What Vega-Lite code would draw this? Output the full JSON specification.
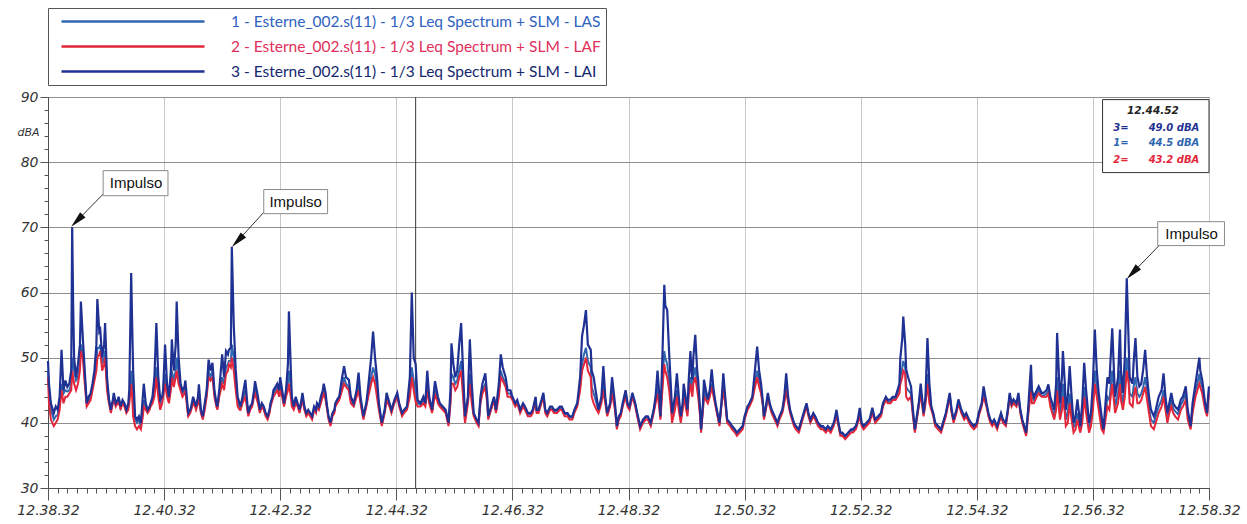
{
  "$schema": "https://vega.github.io/schema/vega-lite/v6.json",
  "width": 1161,
  "height": 391,
  "autosize": {"type": "none"},
  "padding": {"left": 48, "top": 97, "right": 38, "bottom": 36},
  "background": "white",
  "config": {"view": {"stroke": "#4d4d4d", "strokeWidth": 1}},
  "data": {
    "format": {"parse": {"t": "date:'%H:%M:%S'"}},
    "values": [
{"t":"12:38:32","LAI":49.5,"LAF":47,"LAS":48},
{"t":"12:38:33","LAI":46,"LAF":43,"LAS":45},
{"t":"12:38:35","LAI":43,"LAF":40.5,"LAS":42},
{"t":"12:38:38","LAI":41.5,"LAF":39.5,"LAS":40.5},
{"t":"12:38:40","LAI":42.5,"LAF":40,"LAS":41},
{"t":"12:38:42","LAI":42,"LAF":40.5,"LAS":41.2},
{"t":"12:38:44","LAI":44,"LAF":42,"LAS":43},
{"t":"12:38:46","LAI":51.2,"LAF":45,"LAS":46},
{"t":"12:38:48","LAI":45,"LAF":43,"LAS":44.5},
{"t":"12:38:50","LAI":46.5,"LAF":44,"LAS":45},
{"t":"12:38:52","LAI":45.5,"LAF":44,"LAS":44.8},
{"t":"12:38:54","LAI":46,"LAF":44.5,"LAS":45},
{"t":"12:38:56","LAI":48,"LAF":45,"LAS":46},
{"t":"12:38:57","LAI":70,"LAF":48,"LAS":50},
{"t":"12:38:58","LAI":58,"LAF":47,"LAS":49},
{"t":"12:38:59","LAI":50,"LAF":46,"LAS":48},
{"t":"12:39:01","LAI":47,"LAF":45,"LAS":46.5},
{"t":"12:39:03","LAI":49,"LAF":46,"LAS":47},
{"t":"12:39:05","LAI":52,"LAF":48,"LAS":49},
{"t":"12:39:06","LAI":58.6,"LAF":51,"LAS":52},
{"t":"12:39:08","LAI":53,"LAF":50,"LAS":51},
{"t":"12:39:10","LAI":48,"LAF":46,"LAS":47},
{"t":"12:39:12","LAI":43,"LAF":42.5,"LAS":43},
{"t":"12:39:14","LAI":44,"LAF":43,"LAS":43.5},
{"t":"12:39:16","LAI":44.5,"LAF":43.5,"LAS":44},
{"t":"12:39:18","LAI":46,"LAF":45,"LAS":45.5},
{"t":"12:39:20","LAI":48,"LAF":46.5,"LAS":47},
{"t":"12:39:22","LAI":52,"LAF":48,"LAS":49},
{"t":"12:39:23","LAI":59,"LAF":50,"LAS":51.5},
{"t":"12:39:25","LAI":54,"LAF":50.5,"LAS":51.5},
{"t":"12:39:26","LAI":54.3,"LAF":51,"LAS":52},
{"t":"12:39:28","LAI":50,"LAF":48,"LAS":49},
{"t":"12:39:30","LAI":52,"LAF":49,"LAS":50},
{"t":"12:39:31","LAI":55.3,"LAF":50,"LAS":51},
{"t":"12:39:33","LAI":47,"LAF":45,"LAS":46},
{"t":"12:39:35","LAI":43.6,"LAF":43,"LAS":43.5},
{"t":"12:39:37","LAI":42,"LAF":41.5,"LAS":42},
{"t":"12:39:39","LAI":43.5,"LAF":43,"LAS":43.2},
{"t":"12:39:40","LAI":44.6,"LAF":43.8,"LAS":44},
{"t":"12:39:42","LAI":43,"LAF":42.5,"LAS":42.8},
{"t":"12:39:44","LAI":43.5,"LAF":43,"LAS":43.2},
{"t":"12:39:45","LAI":44,"LAF":43.5,"LAS":43.8},
{"t":"12:39:47","LAI":42.5,"LAF":42,"LAS":42.3},
{"t":"12:39:49","LAI":43.5,"LAF":43,"LAS":43.2},
{"t":"12:39:51","LAI":43,"LAF":42.5,"LAS":42.8},
{"t":"12:39:53","LAI":42,"LAF":41.5,"LAS":41.8},
{"t":"12:39:55","LAI":43,"LAF":42,"LAS":42.5},
{"t":"12:39:56","LAI":45,"LAF":43,"LAS":43.5},
{"t":"12:39:58","LAI":63,"LAF":46,"LAS":48},
{"t":"12:39:59","LAI":55,"LAF":44,"LAS":46},
{"t":"12:40:00","LAI":48,"LAF":41,"LAS":44},
{"t":"12:40:02","LAI":41,"LAF":39.5,"LAS":40.5},
{"t":"12:40:04","LAI":40.5,"LAF":39,"LAS":40},
{"t":"12:40:06","LAI":41,"LAF":39.5,"LAS":40.5},
{"t":"12:40:08","LAI":40,"LAF":39,"LAS":39.5},
{"t":"12:40:10","LAI":44,"LAF":41,"LAS":42},
{"t":"12:40:11","LAI":46,"LAF":42.5,"LAS":43.5},
{"t":"12:40:13","LAI":43,"LAF":42,"LAS":42.5},
{"t":"12:40:15","LAI":42,"LAF":41.5,"LAS":41.8},
{"t":"12:40:17","LAI":42.5,"LAF":42,"LAS":42.2},
{"t":"12:40:18","LAI":43,"LAF":42.5,"LAS":42.8},
{"t":"12:40:20","LAI":44,"LAF":43,"LAS":43.5},
{"t":"12:40:22","LAI":47,"LAF":44,"LAS":45},
{"t":"12:40:24","LAI":55.3,"LAF":47,"LAS":48.5},
{"t":"12:40:26","LAI":47,"LAF":44,"LAS":45.5},
{"t":"12:40:28","LAI":43.6,"LAF":42,"LAS":43},
{"t":"12:40:30","LAI":44,"LAF":43,"LAS":43.5},
{"t":"12:40:31","LAI":45,"LAF":44,"LAS":44.5},
{"t":"12:40:33","LAI":52,"LAF":46,"LAS":47.5},
{"t":"12:40:35","LAI":46,"LAF":44,"LAS":45},
{"t":"12:40:37","LAI":44,"LAF":43,"LAS":43.5},
{"t":"12:40:39","LAI":48,"LAF":45,"LAS":46},
{"t":"12:40:40","LAI":52.8,"LAF":47,"LAS":48},
{"t":"12:40:42","LAI":48,"LAF":45.5,"LAS":46.5},
{"t":"12:40:44","LAI":52,"LAF":47,"LAS":48},
{"t":"12:40:45","LAI":58.6,"LAF":48,"LAS":50},
{"t":"12:40:47","LAI":50,"LAF":46,"LAS":47.5},
{"t":"12:40:49","LAI":46,"LAF":45,"LAS":45.5},
{"t":"12:40:51","LAI":45,"LAF":44,"LAS":44.5},
{"t":"12:40:53","LAI":45.5,"LAF":44.5,"LAS":45},
{"t":"12:40:54","LAI":46.5,"LAF":45,"LAS":45.5},
{"t":"12:40:56","LAI":43,"LAF":42,"LAS":42.5},
{"t":"12:40:57","LAI":41.5,"LAF":41,"LAS":41.3},
{"t":"12:40:59","LAI":42,"LAF":41.5,"LAS":41.8},
{"t":"12:41:00","LAI":42.5,"LAF":42,"LAS":42.2},
{"t":"12:41:02","LAI":44,"LAF":43,"LAS":43.5},
{"t":"12:41:04","LAI":43,"LAF":42.5,"LAS":42.8},
{"t":"12:41:05","LAI":42.5,"LAF":42,"LAS":42.2},
{"t":"12:41:07","LAI":44,"LAF":43,"LAS":43.5},
{"t":"12:41:08","LAI":45.9,"LAF":44,"LAS":44.8},
{"t":"12:41:10","LAI":42,"LAF":41.5,"LAS":41.8},
{"t":"12:41:12","LAI":41,"LAF":40.5,"LAS":40.8},
{"t":"12:41:14","LAI":43,"LAF":42,"LAS":42.5},
{"t":"12:41:16","LAI":45,"LAF":44,"LAS":44.5},
{"t":"12:41:18","LAI":49.7,"LAF":47,"LAS":48},
{"t":"12:41:20","LAI":48,"LAF":46.5,"LAS":47},
{"t":"12:41:22","LAI":49.2,"LAF":47,"LAS":48},
{"t":"12:41:24","LAI":45,"LAF":44,"LAS":44.5},
{"t":"12:41:26","LAI":43,"LAF":42.5,"LAS":42.8},
{"t":"12:41:27","LAI":42.5,"LAF":42,"LAS":42.2},
{"t":"12:41:29","LAI":45,"LAF":44,"LAS":44.5},
{"t":"12:41:32","LAI":50.5,"LAF":46,"LAS":47},
{"t":"12:41:34","LAI":47,"LAF":45,"LAS":46},
{"t":"12:41:36","LAI":51,"LAF":47.5,"LAS":48.5},
{"t":"12:41:38","LAI":50.5,"LAF":48,"LAS":49},
{"t":"12:41:39","LAI":51.2,"LAF":49,"LAS":49.5},
{"t":"12:41:41","LAI":51.5,"LAF":48.5,"LAS":49.5},
{"t":"12:41:42","LAI":67,"LAF":50,"LAS":52},
{"t":"12:41:44","LAI":55,"LAF":48,"LAS":50},
{"t":"12:41:46","LAI":48.2,"LAF":45,"LAS":46.5},
{"t":"12:41:48","LAI":44,"LAF":42.5,"LAS":43.5},
{"t":"12:41:50","LAI":43,"LAF":42,"LAS":42.5},
{"t":"12:41:51","LAI":42.5,"LAF":42,"LAS":42.2},
{"t":"12:41:53","LAI":44,"LAF":43,"LAS":43.5},
{"t":"12:41:56","LAI":46.6,"LAF":44,"LAS":45},
{"t":"12:41:58","LAI":43,"LAF":42,"LAS":42.5},
{"t":"12:41:59","LAI":41.5,"LAF":41,"LAS":41.3},
{"t":"12:42:01","LAI":42.5,"LAF":42,"LAS":42.2},
{"t":"12:42:03","LAI":43,"LAF":42.5,"LAS":42.8},
{"t":"12:42:05","LAI":45,"LAF":44,"LAS":44.5},
{"t":"12:42:06","LAI":46.4,"LAF":44.5,"LAS":45.2},
{"t":"12:42:09","LAI":44,"LAF":43,"LAS":43.5},
{"t":"12:42:11","LAI":42,"LAF":41.5,"LAS":41.8},
{"t":"12:42:13","LAI":43,"LAF":42.5,"LAS":42.8},
{"t":"12:42:15","LAI":42.5,"LAF":42,"LAS":42.2},
{"t":"12:42:17","LAI":41.5,"LAF":41,"LAS":41.3},
{"t":"12:42:19","LAI":41,"LAF":40.5,"LAS":40.8},
{"t":"12:42:21","LAI":42,"LAF":41.5,"LAS":41.8},
{"t":"12:42:22","LAI":43,"LAF":42.5,"LAS":42.8},
{"t":"12:42:24","LAI":44,"LAF":43.5,"LAS":43.8},
{"t":"12:42:25","LAI":45,"LAF":44,"LAS":44.5},
{"t":"12:42:27","LAI":45.5,"LAF":44.5,"LAS":45},
{"t":"12:42:29","LAI":46,"LAF":45,"LAS":45.5},
{"t":"12:42:31","LAI":45,"LAF":44,"LAS":44.5},
{"t":"12:42:32","LAI":47,"LAF":45,"LAS":45.8},
{"t":"12:42:34","LAI":45,"LAF":44,"LAS":44.5},
{"t":"12:42:36","LAI":43,"LAF":42.5,"LAS":42.8},
{"t":"12:42:38","LAI":45,"LAF":44,"LAS":44.5},
{"t":"12:42:40","LAI":49,"LAF":45,"LAS":46},
{"t":"12:42:41","LAI":57.1,"LAF":46,"LAS":48},
{"t":"12:42:43","LAI":48,"LAF":44,"LAS":45.5},
{"t":"12:42:44","LAI":44,"LAF":42.5,"LAS":43.5},
{"t":"12:42:46","LAI":42.5,"LAF":42,"LAS":42.2},
{"t":"12:42:48","LAI":44,"LAF":43,"LAS":43.5},
{"t":"12:42:50","LAI":43,"LAF":42.5,"LAS":42.8},
{"t":"12:42:52","LAI":42,"LAF":41.5,"LAS":41.8},
{"t":"12:42:54","LAI":43.5,"LAF":43,"LAS":43.2},
{"t":"12:42:55","LAI":44.6,"LAF":43.5,"LAS":44},
{"t":"12:42:57","LAI":42.5,"LAF":42,"LAS":42.2},
{"t":"12:42:59","LAI":41.5,"LAF":41,"LAS":41.3},
{"t":"12:43:01","LAI":42,"LAF":41.5,"LAS":41.8},
{"t":"12:43:03","LAI":41.5,"LAF":41,"LAS":41.3},
{"t":"12:43:05","LAI":41,"LAF":40.5,"LAS":40.8},
{"t":"12:43:07","LAI":42.5,"LAF":42,"LAS":42.2},
{"t":"12:43:09","LAI":42,"LAF":41.5,"LAS":41.8},
{"t":"12:43:10","LAI":43,"LAF":42.5,"LAS":42.8},
{"t":"12:43:12","LAI":42.5,"LAF":42,"LAS":42.2},
{"t":"12:43:14","LAI":44,"LAF":43,"LAS":43.5},
{"t":"12:43:16","LAI":45,"LAF":44,"LAS":44.5},
{"t":"12:43:17","LAI":46,"LAF":44.5,"LAS":45},
{"t":"12:43:19","LAI":44.5,"LAF":43.5,"LAS":44},
{"t":"12:43:20","LAI":43,"LAF":42.5,"LAS":42.8},
{"t":"12:43:22","LAI":41,"LAF":40.5,"LAS":40.8},
{"t":"12:43:24","LAI":40,"LAF":39.5,"LAS":39.8},
{"t":"12:43:26","LAI":41.5,"LAF":41,"LAS":41.3},
{"t":"12:43:28","LAI":42,"LAF":41.5,"LAS":41.8},
{"t":"12:43:29","LAI":43,"LAF":42.5,"LAS":42.8},
{"t":"12:43:31","LAI":43.6,"LAF":43,"LAS":43.3},
{"t":"12:43:33","LAI":44,"LAF":43.5,"LAS":43.8},
{"t":"12:43:36","LAI":47,"LAF":45,"LAS":45.5},
{"t":"12:43:38","LAI":48.7,"LAF":46,"LAS":47},
{"t":"12:43:40","LAI":47,"LAF":45.5,"LAS":46},
{"t":"12:43:43","LAI":46.6,"LAF":45,"LAS":45.5},
{"t":"12:43:45","LAI":44,"LAF":43,"LAS":43.5},
{"t":"12:43:48","LAI":43,"LAF":42.5,"LAS":42.8},
{"t":"12:43:51","LAI":45,"LAF":44,"LAS":44.5},
{"t":"12:43:53","LAI":47.7,"LAF":45,"LAS":46},
{"t":"12:43:55","LAI":44,"LAF":43,"LAS":43.5},
{"t":"12:43:58","LAI":41,"LAF":40.5,"LAS":40.8},
{"t":"12:44:01","LAI":43,"LAF":42.5,"LAS":42.8},
{"t":"12:44:03","LAI":45.6,"LAF":44,"LAS":44.5},
{"t":"12:44:06","LAI":50,"LAF":46,"LAS":47},
{"t":"12:44:08","LAI":54,"LAF":47,"LAS":48.5},
{"t":"12:44:10","LAI":50,"LAF":46,"LAS":47.5},
{"t":"12:44:12","LAI":47,"LAF":44,"LAS":45.5},
{"t":"12:44:14","LAI":43,"LAF":42,"LAS":42.5},
{"t":"12:44:17","LAI":40,"LAF":39.5,"LAS":39.8},
{"t":"12:44:20","LAI":42,"LAF":41.5,"LAS":41.8},
{"t":"12:44:22","LAI":44.6,"LAF":43.5,"LAS":44},
{"t":"12:44:25","LAI":43,"LAF":42.5,"LAS":42.8},
{"t":"12:44:27","LAI":42,"LAF":41.5,"LAS":41.8},
{"t":"12:44:30","LAI":43.5,"LAF":43,"LAS":43.2},
{"t":"12:44:33","LAI":44.6,"LAF":44,"LAS":44.2},
{"t":"12:44:35","LAI":43,"LAF":42.5,"LAS":42.8},
{"t":"12:44:38","LAI":41.5,"LAF":41,"LAS":41.3},
{"t":"12:44:40","LAI":42,"LAF":41.5,"LAS":41.8},
{"t":"12:44:43","LAI":42.5,"LAF":42,"LAS":42.2},
{"t":"12:44:46","LAI":47,"LAF":44,"LAS":45},
{"t":"12:44:48","LAI":60,"LAF":47,"LAS":48.5},
{"t":"12:44:50","LAI":50,"LAF":45,"LAS":46.5},
{"t":"12:44:52","LAI":49.0,"LAF":43.2,"LAS":44.5},
{"t":"12:44:54","LAI":43.5,"LAF":42.5,"LAS":43},
{"t":"12:44:57","LAI":43,"LAF":42.5,"LAS":42.8},
{"t":"12:45:00","LAI":44,"LAF":43,"LAS":43.5},
{"t":"12:45:02","LAI":43,"LAF":42.5,"LAS":42.8},
{"t":"12:45:04","LAI":48,"LAF":45,"LAS":46},
{"t":"12:45:06","LAI":44,"LAF":43,"LAS":43.5},
{"t":"12:45:09","LAI":42,"LAF":41.5,"LAS":41.8},
{"t":"12:45:12","LAI":46.4,"LAF":44.5,"LAS":45},
{"t":"12:45:15","LAI":44,"LAF":43,"LAS":43.5},
{"t":"12:45:17","LAI":43,"LAF":42.5,"LAS":42.8},
{"t":"12:45:20","LAI":42.5,"LAF":42,"LAS":42.2},
{"t":"12:45:23","LAI":42,"LAF":41.5,"LAS":41.8},
{"t":"12:45:26","LAI":40,"LAF":39.5,"LAS":39.8},
{"t":"12:45:28","LAI":45,"LAF":43,"LAS":43.5},
{"t":"12:45:29","LAI":52.2,"LAF":46,"LAS":47.5},
{"t":"12:45:31","LAI":49,"LAF":46,"LAS":47},
{"t":"12:45:33","LAI":47,"LAF":45,"LAS":46},
{"t":"12:45:35","LAI":48,"LAF":45.5,"LAS":46.5},
{"t":"12:45:37","LAI":52,"LAF":47,"LAS":48},
{"t":"12:45:39","LAI":55.3,"LAF":48,"LAS":49.5},
{"t":"12:45:41","LAI":48,"LAF":44,"LAS":45.5},
{"t":"12:45:43","LAI":41,"LAF":40,"LAS":40.5},
{"t":"12:45:46","LAI":44,"LAF":43,"LAS":43.5},
{"t":"12:45:48","LAI":52.8,"LAF":46,"LAS":47.5},
{"t":"12:45:50","LAI":46,"LAF":43,"LAS":44},
{"t":"12:45:52","LAI":41.5,"LAF":41,"LAS":41.3},
{"t":"12:45:55","LAI":40.5,"LAF":40,"LAS":40.3},
{"t":"12:45:57","LAI":40,"LAF":39.5,"LAS":39.8},
{"t":"12:45:59","LAI":44,"LAF":43,"LAS":43.5},
{"t":"12:46:01","LAI":46,"LAF":44.5,"LAS":45},
{"t":"12:46:04","LAI":47.6,"LAF":45.5,"LAS":46},
{"t":"12:46:06","LAI":44,"LAF":43,"LAS":43.5},
{"t":"12:46:07","LAI":41,"LAF":40.5,"LAS":40.8},
{"t":"12:46:10","LAI":42.5,"LAF":42,"LAS":42.2},
{"t":"12:46:13","LAI":44,"LAF":43.5,"LAS":43.8},
{"t":"12:46:15","LAI":42,"LAF":41.5,"LAS":41.8},
{"t":"12:46:18","LAI":46,"LAF":44,"LAS":45},
{"t":"12:46:20","LAI":50.5,"LAF":47,"LAS":48},
{"t":"12:46:22","LAI":48.5,"LAF":46.5,"LAS":47},
{"t":"12:46:25","LAI":47,"LAF":45.5,"LAS":46},
{"t":"12:46:27","LAI":45,"LAF":44,"LAS":44.5},
{"t":"12:46:30","LAI":45,"LAF":44,"LAS":44.5},
{"t":"12:46:32","LAI":44,"LAF":43.5,"LAS":43.8},
{"t":"12:46:35","LAI":43,"LAF":42.5,"LAS":42.8},
{"t":"12:46:37","LAI":43.5,"LAF":43,"LAS":43.2},
{"t":"12:46:40","LAI":42,"LAF":41.5,"LAS":41.8},
{"t":"12:46:43","LAI":43,"LAF":42.5,"LAS":42.8},
{"t":"12:46:45","LAI":42.5,"LAF":42,"LAS":42.2},
{"t":"12:46:48","LAI":41.5,"LAF":41,"LAS":41.3},
{"t":"12:46:51","LAI":41.5,"LAF":41,"LAS":41.3},
{"t":"12:46:53","LAI":42,"LAF":41.5,"LAS":41.8},
{"t":"12:46:56","LAI":44,"LAF":43.5,"LAS":43.8},
{"t":"12:46:57","LAI":42,"LAF":41.5,"LAS":41.8},
{"t":"12:46:59","LAI":42,"LAF":41.5,"LAS":41.8},
{"t":"12:47:02","LAI":43.5,"LAF":43,"LAS":43.2},
{"t":"12:47:04","LAI":44.6,"LAF":44,"LAS":44.2},
{"t":"12:47:06","LAI":42,"LAF":41.5,"LAS":41.8},
{"t":"12:47:08","LAI":41.5,"LAF":41,"LAS":41.3},
{"t":"12:47:11","LAI":42.5,"LAF":42,"LAS":42.2},
{"t":"12:47:13","LAI":42.5,"LAF":42,"LAS":42.2},
{"t":"12:47:15","LAI":42,"LAF":41.5,"LAS":41.8},
{"t":"12:47:18","LAI":42,"LAF":41.5,"LAS":41.8},
{"t":"12:47:21","LAI":42.5,"LAF":42,"LAS":42.2},
{"t":"12:47:23","LAI":42.5,"LAF":42,"LAS":42.2},
{"t":"12:47:26","LAI":41.5,"LAF":41,"LAS":41.3},
{"t":"12:47:29","LAI":41.5,"LAF":41,"LAS":41.3},
{"t":"12:47:31","LAI":41,"LAF":40.5,"LAS":40.8},
{"t":"12:47:34","LAI":41,"LAF":40.5,"LAS":40.8},
{"t":"12:47:36","LAI":42,"LAF":41.5,"LAS":41.8},
{"t":"12:47:39","LAI":43,"LAF":42.5,"LAS":42.8},
{"t":"12:47:42","LAI":47,"LAF":45,"LAS":45.5},
{"t":"12:47:44","LAI":53.3,"LAF":48,"LAS":49},
{"t":"12:47:46","LAI":55,"LAF":49,"LAS":50.5},
{"t":"12:47:48","LAI":57.3,"LAF":50,"LAS":51.5},
{"t":"12:47:50","LAI":52,"LAF":48,"LAS":49.5},
{"t":"12:47:53","LAI":51.2,"LAF":47,"LAS":48.5},
{"t":"12:47:54","LAI":48,"LAF":44,"LAS":45.5},
{"t":"12:47:56","LAI":47,"LAF":43,"LAS":44.5},
{"t":"12:47:59","LAI":44,"LAF":42,"LAS":43},
{"t":"12:48:01","LAI":42,"LAF":41.5,"LAS":41.8},
{"t":"12:48:04","LAI":44,"LAF":43,"LAS":43.5},
{"t":"12:48:06","LAI":48.7,"LAF":45,"LAS":46},
{"t":"12:48:08","LAI":44,"LAF":43,"LAS":43.5},
{"t":"12:48:10","LAI":41.5,"LAF":41,"LAS":41.3},
{"t":"12:48:13","LAI":43,"LAF":42.5,"LAS":42.8},
{"t":"12:48:15","LAI":47,"LAF":44.5,"LAS":45},
{"t":"12:48:18","LAI":43,"LAF":42,"LAS":42.5},
{"t":"12:48:20","LAI":39.5,"LAF":39,"LAS":39.3},
{"t":"12:48:22","LAI":41,"LAF":40.5,"LAS":40.8},
{"t":"12:48:24","LAI":41.5,"LAF":41,"LAS":41.3},
{"t":"12:48:26","LAI":43,"LAF":42.5,"LAS":42.8},
{"t":"12:48:29","LAI":45,"LAF":44,"LAS":44.5},
{"t":"12:48:31","LAI":43,"LAF":42.5,"LAS":42.8},
{"t":"12:48:33","LAI":42.5,"LAF":42,"LAS":42.2},
{"t":"12:48:36","LAI":44.6,"LAF":44,"LAS":44.2},
{"t":"12:48:39","LAI":43,"LAF":42.5,"LAS":42.8},
{"t":"12:48:41","LAI":41.5,"LAF":41,"LAS":41.3},
{"t":"12:48:44","LAI":39.5,"LAF":39,"LAS":39.3},
{"t":"12:48:47","LAI":40.5,"LAF":40,"LAS":40.3},
{"t":"12:48:50","LAI":41,"LAF":40.5,"LAS":40.8},
{"t":"12:48:52","LAI":41,"LAF":40.5,"LAS":40.8},
{"t":"12:48:55","LAI":40,"LAF":39.5,"LAS":39.8},
{"t":"12:48:58","LAI":42,"LAF":41.5,"LAS":41.8},
{"t":"12:49:00","LAI":44,"LAF":43,"LAS":43.5},
{"t":"12:49:02","LAI":48,"LAF":44.5,"LAS":45.5},
{"t":"12:49:04","LAI":44,"LAF":42,"LAS":43},
{"t":"12:49:05","LAI":41,"LAF":40.5,"LAS":40.8},
{"t":"12:49:07","LAI":50,"LAF":45,"LAS":46},
{"t":"12:49:09","LAI":61.2,"LAF":49,"LAS":51},
{"t":"12:49:10","LAI":58,"LAF":48,"LAS":50},
{"t":"12:49:12","LAI":57.3,"LAF":47,"LAS":49},
{"t":"12:49:14","LAI":50.7,"LAF":45,"LAS":46.5},
{"t":"12:49:16","LAI":45,"LAF":42,"LAS":43.5},
{"t":"12:49:17","LAI":41.5,"LAF":40,"LAS":41},
{"t":"12:49:20","LAI":44,"LAF":42,"LAS":43},
{"t":"12:49:22","LAI":47.6,"LAF":44,"LAS":45},
{"t":"12:49:24","LAI":44,"LAF":42,"LAS":43},
{"t":"12:49:26","LAI":41,"LAF":40,"LAS":40.5},
{"t":"12:49:28","LAI":43,"LAF":42,"LAS":42.5},
{"t":"12:49:29","LAI":46,"LAF":44,"LAS":44.5},
{"t":"12:49:31","LAI":44,"LAF":42.5,"LAS":43},
{"t":"12:49:33","LAI":42,"LAF":41,"LAS":41.5},
{"t":"12:49:34","LAI":46,"LAF":44,"LAS":44.5},
{"t":"12:49:36","LAI":51,"LAF":46,"LAS":47},
{"t":"12:49:37","LAI":48,"LAF":45,"LAS":46},
{"t":"12:49:38","LAI":46.6,"LAF":44,"LAS":45},
{"t":"12:49:39","LAI":50,"LAF":46,"LAS":47},
{"t":"12:49:41","LAI":53.5,"LAF":47,"LAS":48.5},
{"t":"12:49:43","LAI":48,"LAF":45,"LAS":46},
{"t":"12:49:44","LAI":46.6,"LAF":44,"LAS":45},
{"t":"12:49:46","LAI":42,"LAF":41,"LAS":41.5},
{"t":"12:49:47","LAI":39,"LAF":38.5,"LAS":38.8},
{"t":"12:49:49","LAI":43,"LAF":42,"LAS":42.5},
{"t":"12:49:50","LAI":46.6,"LAF":44,"LAS":45},
{"t":"12:49:52","LAI":45,"LAF":43.5,"LAS":44},
{"t":"12:49:54","LAI":43.6,"LAF":43,"LAS":43.3},
{"t":"12:49:56","LAI":45,"LAF":44,"LAS":44.5},
{"t":"12:49:58","LAI":48.2,"LAF":45.5,"LAS":46},
{"t":"12:50:00","LAI":45,"LAF":44,"LAS":44.5},
{"t":"12:50:02","LAI":43,"LAF":42.5,"LAS":42.8},
{"t":"12:50:04","LAI":41.5,"LAF":41,"LAS":41.3},
{"t":"12:50:06","LAI":40,"LAF":39.5,"LAS":39.8},
{"t":"12:50:08","LAI":43,"LAF":42.5,"LAS":42.8},
{"t":"12:50:10","LAI":47.6,"LAF":45,"LAS":45.5},
{"t":"12:50:12","LAI":44,"LAF":43,"LAS":43.5},
{"t":"12:50:14","LAI":40.5,"LAF":40,"LAS":40.3},
{"t":"12:50:17","LAI":40,"LAF":39.5,"LAS":39.8},
{"t":"12:50:19","LAI":39.5,"LAF":39,"LAS":39.3},
{"t":"12:50:22","LAI":39,"LAF":38.5,"LAS":38.8},
{"t":"12:50:24","LAI":38.5,"LAF":38,"LAS":38.3},
{"t":"12:50:27","LAI":39,"LAF":38.5,"LAS":38.8},
{"t":"12:50:30","LAI":39.5,"LAF":39,"LAS":39.3},
{"t":"12:50:32","LAI":41,"LAF":40.5,"LAS":40.8},
{"t":"12:50:35","LAI":42.5,"LAF":42,"LAS":42.2},
{"t":"12:50:37","LAI":43,"LAF":42.5,"LAS":42.8},
{"t":"12:50:40","LAI":44,"LAF":43.5,"LAS":43.8},
{"t":"12:50:42","LAI":47,"LAF":45,"LAS":45.5},
{"t":"12:50:45","LAI":51.7,"LAF":47,"LAS":48},
{"t":"12:50:47","LAI":48,"LAF":45.5,"LAS":46.5},
{"t":"12:50:49","LAI":46,"LAF":44.5,"LAS":45},
{"t":"12:50:51","LAI":43,"LAF":42.5,"LAS":42.8},
{"t":"12:50:52","LAI":41,"LAF":40.5,"LAS":40.8},
{"t":"12:50:54","LAI":42.5,"LAF":42,"LAS":42.2},
{"t":"12:50:56","LAI":44.6,"LAF":44,"LAS":44.2},
{"t":"12:50:58","LAI":43,"LAF":42.5,"LAS":42.8},
{"t":"12:51:00","LAI":42,"LAF":41.5,"LAS":41.8},
{"t":"12:51:03","LAI":41,"LAF":40.5,"LAS":40.8},
{"t":"12:51:06","LAI":40,"LAF":39.5,"LAS":39.8},
{"t":"12:51:08","LAI":41,"LAF":40.5,"LAS":40.8},
{"t":"12:51:11","LAI":42,"LAF":41.5,"LAS":41.8},
{"t":"12:51:13","LAI":44,"LAF":43,"LAS":43.5},
{"t":"12:51:15","LAI":47.6,"LAF":45,"LAS":45.5},
{"t":"12:51:17","LAI":44,"LAF":43,"LAS":43.5},
{"t":"12:51:19","LAI":42,"LAF":41.5,"LAS":41.8},
{"t":"12:51:21","LAI":41,"LAF":40.5,"LAS":40.8},
{"t":"12:51:23","LAI":40,"LAF":39.5,"LAS":39.8},
{"t":"12:51:25","LAI":39.5,"LAF":39,"LAS":39.3},
{"t":"12:51:28","LAI":39,"LAF":38.5,"LAS":38.8},
{"t":"12:51:30","LAI":40,"LAF":39.5,"LAS":39.8},
{"t":"12:51:32","LAI":41,"LAF":40.5,"LAS":40.8},
{"t":"12:51:34","LAI":42,"LAF":41.5,"LAS":41.8},
{"t":"12:51:36","LAI":43,"LAF":42.5,"LAS":42.8},
{"t":"12:51:38","LAI":41.5,"LAF":41,"LAS":41.3},
{"t":"12:51:40","LAI":40.5,"LAF":40,"LAS":40.3},
{"t":"12:51:43","LAI":41.5,"LAF":41,"LAS":41.3},
{"t":"12:51:45","LAI":41,"LAF":40.5,"LAS":40.8},
{"t":"12:51:48","LAI":40,"LAF":39.5,"LAS":39.8},
{"t":"12:51:51","LAI":39.5,"LAF":39,"LAS":39.3},
{"t":"12:51:53","LAI":39.5,"LAF":39,"LAS":39.3},
{"t":"12:51:56","LAI":39,"LAF":38.5,"LAS":38.8},
{"t":"12:51:58","LAI":39.5,"LAF":39,"LAS":39.3},
{"t":"12:52:01","LAI":39,"LAF":38.5,"LAS":38.8},
{"t":"12:52:04","LAI":40,"LAF":39.5,"LAS":39.8},
{"t":"12:52:05","LAI":40.5,"LAF":40,"LAS":40.3},
{"t":"12:52:07","LAI":42,"LAF":41,"LAS":41.5},
{"t":"12:52:09","LAI":40,"LAF":39.5,"LAS":39.8},
{"t":"12:52:11","LAI":38.5,"LAF":38,"LAS":38.3},
{"t":"12:52:13","LAI":38.5,"LAF":38,"LAS":38.3},
{"t":"12:52:16","LAI":38,"LAF":37.5,"LAS":37.8},
{"t":"12:52:19","LAI":38.5,"LAF":38,"LAS":38.3},
{"t":"12:52:22","LAI":39,"LAF":38.5,"LAS":38.8},
{"t":"12:52:24","LAI":39,"LAF":38.5,"LAS":38.8},
{"t":"12:52:27","LAI":39.5,"LAF":39,"LAS":39.3},
{"t":"12:52:29","LAI":40.5,"LAF":40,"LAS":40.3},
{"t":"12:52:31","LAI":42.3,"LAF":41,"LAS":41.5},
{"t":"12:52:33","LAI":40,"LAF":39.5,"LAS":39.8},
{"t":"12:52:35","LAI":39.5,"LAF":39,"LAS":39.3},
{"t":"12:52:38","LAI":40,"LAF":39.5,"LAS":39.8},
{"t":"12:52:41","LAI":40.5,"LAF":40,"LAS":40.3},
{"t":"12:52:42","LAI":41,"LAF":40.5,"LAS":40.8},
{"t":"12:52:44","LAI":42.3,"LAF":41.5,"LAS":41.8},
{"t":"12:52:46","LAI":41,"LAF":40.5,"LAS":40.8},
{"t":"12:52:47","LAI":40.5,"LAF":40,"LAS":40.3},
{"t":"12:52:50","LAI":41,"LAF":40.5,"LAS":40.8},
{"t":"12:52:53","LAI":41.5,"LAF":41,"LAS":41.3},
{"t":"12:52:55","LAI":43,"LAF":42.5,"LAS":42.8},
{"t":"12:52:58","LAI":44,"LAF":43.5,"LAS":43.8},
{"t":"12:53:00","LAI":43.5,"LAF":43,"LAS":43.2},
{"t":"12:53:03","LAI":43.6,"LAF":43,"LAS":43.3},
{"t":"12:53:05","LAI":44,"LAF":43.5,"LAS":43.8},
{"t":"12:53:08","LAI":44,"LAF":43.5,"LAS":43.8},
{"t":"12:53:10","LAI":45,"LAF":44,"LAS":44.5},
{"t":"12:53:12","LAI":46,"LAF":44.5,"LAS":45},
{"t":"12:53:13","LAI":50,"LAF":46,"LAS":47},
{"t":"12:53:15","LAI":53,"LAF":47,"LAS":48.5},
{"t":"12:53:16","LAI":56.3,"LAF":48,"LAS":49.5},
{"t":"12:53:18","LAI":52,"LAF":47.5,"LAS":48.5},
{"t":"12:53:19","LAI":48.2,"LAF":44,"LAS":45.5},
{"t":"12:53:21","LAI":47,"LAF":43.5,"LAS":45},
{"t":"12:53:24","LAI":45.6,"LAF":44,"LAS":44.5},
{"t":"12:53:26","LAI":42,"LAF":41,"LAS":41.5},
{"t":"12:53:28","LAI":39,"LAF":38.5,"LAS":38.8},
{"t":"12:53:30","LAI":41,"LAF":40.5,"LAS":40.8},
{"t":"12:53:32","LAI":43,"LAF":42.5,"LAS":42.8},
{"t":"12:53:34","LAI":46,"LAF":44.5,"LAS":45},
{"t":"12:53:37","LAI":41.5,"LAF":41,"LAS":41.3},
{"t":"12:53:39","LAI":44,"LAF":43,"LAS":43.5},
{"t":"12:53:41","LAI":53,"LAF":46,"LAS":47.5},
{"t":"12:53:43","LAI":46,"LAF":43,"LAS":44.5},
{"t":"12:53:45","LAI":42.5,"LAF":42,"LAS":42.2},
{"t":"12:53:47","LAI":41.5,"LAF":41,"LAS":41.3},
{"t":"12:53:49","LAI":40,"LAF":39.5,"LAS":39.8},
{"t":"12:53:52","LAI":39.5,"LAF":39,"LAS":39.3},
{"t":"12:53:55","LAI":39,"LAF":38.5,"LAS":38.8},
{"t":"12:53:57","LAI":40,"LAF":39.5,"LAS":39.8},
{"t":"12:54:00","LAI":41.5,"LAF":41,"LAS":41.3},
{"t":"12:54:02","LAI":43,"LAF":42.5,"LAS":42.8},
{"t":"12:54:04","LAI":44.6,"LAF":44,"LAS":44.2},
{"t":"12:54:06","LAI":42,"LAF":41.5,"LAS":41.8},
{"t":"12:54:08","LAI":40.5,"LAF":40,"LAS":40.3},
{"t":"12:54:11","LAI":42,"LAF":41.5,"LAS":41.8},
{"t":"12:54:13","LAI":43.6,"LAF":43,"LAS":43.3},
{"t":"12:54:16","LAI":42,"LAF":41.5,"LAS":41.8},
{"t":"12:54:19","LAI":41,"LAF":40.5,"LAS":40.8},
{"t":"12:54:21","LAI":41.5,"LAF":41,"LAS":41.3},
{"t":"12:54:24","LAI":40.5,"LAF":40,"LAS":40.3},
{"t":"12:54:26","LAI":40,"LAF":39.5,"LAS":39.8},
{"t":"12:54:29","LAI":39.5,"LAF":39,"LAS":39.3},
{"t":"12:54:32","LAI":40,"LAF":39.5,"LAS":39.8},
{"t":"12:54:34","LAI":41.5,"LAF":41,"LAS":41.3},
{"t":"12:54:37","LAI":43,"LAF":42.5,"LAS":42.8},
{"t":"12:54:39","LAI":45.6,"LAF":44,"LAS":44.5},
{"t":"12:54:42","LAI":43,"LAF":42.5,"LAS":42.8},
{"t":"12:54:44","LAI":41.5,"LAF":41,"LAS":41.3},
{"t":"12:54:46","LAI":40.5,"LAF":40,"LAS":40.3},
{"t":"12:54:48","LAI":40,"LAF":39.5,"LAS":39.8},
{"t":"12:54:50","LAI":40.5,"LAF":40,"LAS":40.3},
{"t":"12:54:53","LAI":39.5,"LAF":39,"LAS":39.3},
{"t":"12:54:55","LAI":40.5,"LAF":40,"LAS":40.3},
{"t":"12:54:57","LAI":41.5,"LAF":41,"LAS":41.3},
{"t":"12:54:59","LAI":40.5,"LAF":40,"LAS":40.3},
{"t":"12:55:02","LAI":40,"LAF":39.5,"LAS":39.8},
{"t":"12:55:04","LAI":42,"LAF":41.5,"LAS":41.8},
{"t":"12:55:06","LAI":44.6,"LAF":44,"LAS":44.2},
{"t":"12:55:08","LAI":43,"LAF":42.5,"LAS":42.8},
{"t":"12:55:10","LAI":43.6,"LAF":43,"LAS":43.3},
{"t":"12:55:13","LAI":43,"LAF":42.5,"LAS":42.8},
{"t":"12:55:15","LAI":44.6,"LAF":44,"LAS":44.2},
{"t":"12:55:17","LAI":42,"LAF":41.5,"LAS":41.8},
{"t":"12:55:19","LAI":40.5,"LAF":40,"LAS":40.3},
{"t":"12:55:21","LAI":39.5,"LAF":39,"LAS":39.3},
{"t":"12:55:23","LAI":38.5,"LAF":38,"LAS":38.3},
{"t":"12:55:25","LAI":42,"LAF":41,"LAS":41.5},
{"t":"12:55:28","LAI":48.9,"LAF":45,"LAS":46},
{"t":"12:55:29","LAI":45,"LAF":43,"LAS":44},
{"t":"12:55:31","LAI":44,"LAF":43,"LAS":43.5},
{"t":"12:55:34","LAI":45,"LAF":44,"LAS":44.5},
{"t":"12:55:36","LAI":45.6,"LAF":44.5,"LAS":45},
{"t":"12:55:39","LAI":44.6,"LAF":44,"LAS":44.2},
{"t":"12:55:41","LAI":44.6,"LAF":44,"LAS":44.2},
{"t":"12:55:44","LAI":45,"LAF":44,"LAS":44.5},
{"t":"12:55:46","LAI":45.9,"LAF":44.5,"LAS":45},
{"t":"12:55:48","LAI":44,"LAF":42.5,"LAS":43},
{"t":"12:55:50","LAI":43,"LAF":41.5,"LAS":42},
{"t":"12:55:52","LAI":42,"LAF":40.5,"LAS":41},
{"t":"12:55:54","LAI":46,"LAF":42,"LAS":43.5},
{"t":"12:55:55","LAI":53.8,"LAF":45,"LAS":47},
{"t":"12:55:57","LAI":47,"LAF":42,"LAS":44},
{"t":"12:55:58","LAI":43,"LAF":40.5,"LAS":41.5},
{"t":"12:56:00","LAI":47,"LAF":42,"LAS":43.5},
{"t":"12:56:01","LAI":51,"LAF":44,"LAS":46},
{"t":"12:56:03","LAI":46,"LAF":41.5,"LAS":43},
{"t":"12:56:04","LAI":42,"LAF":39.5,"LAS":40.5},
{"t":"12:56:06","LAI":44,"LAF":40,"LAS":41.5},
{"t":"12:56:08","LAI":48.7,"LAF":43,"LAS":44.5},
{"t":"12:56:10","LAI":44,"LAF":40.5,"LAS":42},
{"t":"12:56:12","LAI":40,"LAF":38.5,"LAS":39.3},
{"t":"12:56:14","LAI":41,"LAF":39,"LAS":39.8},
{"t":"12:56:16","LAI":43.6,"LAF":40.5,"LAS":41.5},
{"t":"12:56:18","LAI":41,"LAF":39,"LAS":40},
{"t":"12:56:19","LAI":39.5,"LAF":38.5,"LAS":39},
{"t":"12:56:21","LAI":43,"LAF":40,"LAS":41},
{"t":"12:56:23","LAI":49.2,"LAF":44,"LAS":45.5},
{"t":"12:56:25","LAI":45,"LAF":41.5,"LAS":43},
{"t":"12:56:28","LAI":40,"LAF":38.5,"LAS":39.3},
{"t":"12:56:30","LAI":41.5,"LAF":39.5,"LAS":40.5},
{"t":"12:56:32","LAI":46,"LAF":42,"LAS":43.5},
{"t":"12:56:34","LAI":54.3,"LAF":46,"LAS":48},
{"t":"12:56:36","LAI":48,"LAF":44,"LAS":45.5},
{"t":"12:56:38","LAI":44.6,"LAF":42,"LAS":43},
{"t":"12:56:41","LAI":41,"LAF":39,"LAS":40},
{"t":"12:56:43","LAI":39,"LAF":38.5,"LAS":38.8},
{"t":"12:56:45","LAI":43,"LAF":40.5,"LAS":41.5},
{"t":"12:56:47","LAI":47,"LAF":42.5,"LAS":44},
{"t":"12:56:49","LAI":46,"LAF":42,"LAS":43.5},
{"t":"12:56:50","LAI":49,"LAF":43.5,"LAS":45},
{"t":"12:56:52","LAI":54.5,"LAF":46,"LAS":48},
{"t":"12:56:54","LAI":47,"LAF":43,"LAS":44.5},
{"t":"12:56:55","LAI":44,"LAF":41.5,"LAS":42.5},
{"t":"12:56:58","LAI":47,"LAF":43,"LAS":44.5},
{"t":"12:57:00","LAI":54.3,"LAF":46,"LAS":48},
{"t":"12:57:01","LAI":48,"LAF":43.5,"LAS":45},
{"t":"12:57:03","LAI":44.6,"LAF":42,"LAS":43},
{"t":"12:57:05","LAI":50,"LAF":44,"LAS":45.5},
{"t":"12:57:07","LAI":62.2,"LAF":48,"LAS":50},
{"t":"12:57:09","LAI":52,"LAF":46,"LAS":47.5},
{"t":"12:57:10","LAI":47,"LAF":43,"LAS":44.5},
{"t":"12:57:13","LAI":46,"LAF":42.5,"LAS":44},
{"t":"12:57:14","LAI":49,"LAF":44,"LAS":45.5},
{"t":"12:57:16","LAI":53,"LAF":45.5,"LAS":47},
{"t":"12:57:18","LAI":47,"LAF":43,"LAS":44.5},
{"t":"12:57:20","LAI":45.6,"LAF":43,"LAS":44},
{"t":"12:57:22","LAI":46,"LAF":43.5,"LAS":44.5},
{"t":"12:57:24","LAI":48.2,"LAF":44.5,"LAS":45.5},
{"t":"12:57:26","LAI":51.2,"LAF":45.5,"LAS":47},
{"t":"12:57:28","LAI":47,"LAF":43.5,"LAS":45},
{"t":"12:57:30","LAI":44,"LAF":41.5,"LAS":42.5},
{"t":"12:57:32","LAI":42,"LAF":39.5,"LAS":40.5},
{"t":"12:57:35","LAI":41,"LAF":39,"LAS":40},
{"t":"12:57:37","LAI":42,"LAF":40,"LAS":41},
{"t":"12:57:40","LAI":44,"LAF":41.5,"LAS":42.5},
{"t":"12:57:43","LAI":45,"LAF":42.5,"LAS":43.5},
{"t":"12:57:45","LAI":47.6,"LAF":44,"LAS":45},
{"t":"12:57:47","LAI":44,"LAF":42,"LAS":43},
{"t":"12:57:49","LAI":41.5,"LAF":40,"LAS":40.8},
{"t":"12:57:51","LAI":43,"LAF":41.5,"LAS":42.2},
{"t":"12:57:53","LAI":44.6,"LAF":42.5,"LAS":43.5},
{"t":"12:57:55","LAI":43,"LAF":41.5,"LAS":42.2},
{"t":"12:57:57","LAI":42.5,"LAF":41,"LAS":41.8},
{"t":"12:58:00","LAI":42,"LAF":40.5,"LAS":41.3},
{"t":"12:58:03","LAI":43.6,"LAF":42,"LAS":42.8},
{"t":"12:58:05","LAI":44,"LAF":42.5,"LAS":43.3},
{"t":"12:58:08","LAI":45.6,"LAF":43.5,"LAS":44.5},
{"t":"12:58:10","LAI":42,"LAF":40.5,"LAS":41.3},
{"t":"12:58:13","LAI":39.5,"LAF":39,"LAS":39.3},
{"t":"12:58:15","LAI":43,"LAF":41.5,"LAS":42.2},
{"t":"12:58:18","LAI":46,"LAF":44,"LAS":45},
{"t":"12:58:20","LAI":48,"LAF":45,"LAS":46},
{"t":"12:58:22","LAI":50,"LAF":46,"LAS":47.5},
{"t":"12:58:23","LAI":48,"LAF":45.5,"LAS":46.5},
{"t":"12:58:25","LAI":46.6,"LAF":44.5,"LAS":45.5},
{"t":"12:58:28","LAI":43,"LAF":42,"LAS":42.5},
{"t":"12:58:30","LAI":41.5,"LAF":41,"LAS":41.3},
{"t":"12:58:31","LAI":44,"LAF":43,"LAS":43.5},
{"t":"12:58:32","LAI":45.6,"LAF":44.5,"LAS":45}
    ]
  },
  "resolve": {"axis": {"x": "independent", "y": "independent"}},
  "layer": [
    {
      "data": {"values": [{"t": "12:44:52"}], "format": {"parse": {"t": "date:'%H:%M:%S'"}}},
      "mark": {"type": "rule", "color": "#3a3a3a", "strokeWidth": 1},
      "encoding": {
        "x": {"field": "t", "type": "temporal",
          "axis": {"orient": "bottom", "labels": false, "grid": false, "domain": false, "ticks": true, "tickSize": 5, "tickColor": "#555", "title": null,
            "values": [
{"year":1900,"month":1,"date":1,"hours":12,"minutes":38,"seconds":32},{"year":1900,"month":1,"date":1,"hours":12,"minutes":38,"seconds":42},{"year":1900,"month":1,"date":1,"hours":12,"minutes":38,"seconds":52},
{"year":1900,"month":1,"date":1,"hours":12,"minutes":39,"seconds":2},{"year":1900,"month":1,"date":1,"hours":12,"minutes":39,"seconds":12},{"year":1900,"month":1,"date":1,"hours":12,"minutes":39,"seconds":22},{"year":1900,"month":1,"date":1,"hours":12,"minutes":39,"seconds":32},{"year":1900,"month":1,"date":1,"hours":12,"minutes":39,"seconds":42},{"year":1900,"month":1,"date":1,"hours":12,"minutes":39,"seconds":52},
{"year":1900,"month":1,"date":1,"hours":12,"minutes":40,"seconds":2},{"year":1900,"month":1,"date":1,"hours":12,"minutes":40,"seconds":12},{"year":1900,"month":1,"date":1,"hours":12,"minutes":40,"seconds":22},{"year":1900,"month":1,"date":1,"hours":12,"minutes":40,"seconds":32},{"year":1900,"month":1,"date":1,"hours":12,"minutes":40,"seconds":42},{"year":1900,"month":1,"date":1,"hours":12,"minutes":40,"seconds":52},
{"year":1900,"month":1,"date":1,"hours":12,"minutes":41,"seconds":2},{"year":1900,"month":1,"date":1,"hours":12,"minutes":41,"seconds":12},{"year":1900,"month":1,"date":1,"hours":12,"minutes":41,"seconds":22},{"year":1900,"month":1,"date":1,"hours":12,"minutes":41,"seconds":32},{"year":1900,"month":1,"date":1,"hours":12,"minutes":41,"seconds":42},{"year":1900,"month":1,"date":1,"hours":12,"minutes":41,"seconds":52},
{"year":1900,"month":1,"date":1,"hours":12,"minutes":42,"seconds":2},{"year":1900,"month":1,"date":1,"hours":12,"minutes":42,"seconds":12},{"year":1900,"month":1,"date":1,"hours":12,"minutes":42,"seconds":22},{"year":1900,"month":1,"date":1,"hours":12,"minutes":42,"seconds":32},{"year":1900,"month":1,"date":1,"hours":12,"minutes":42,"seconds":42},{"year":1900,"month":1,"date":1,"hours":12,"minutes":42,"seconds":52},
{"year":1900,"month":1,"date":1,"hours":12,"minutes":43,"seconds":2},{"year":1900,"month":1,"date":1,"hours":12,"minutes":43,"seconds":12},{"year":1900,"month":1,"date":1,"hours":12,"minutes":43,"seconds":22},{"year":1900,"month":1,"date":1,"hours":12,"minutes":43,"seconds":32},{"year":1900,"month":1,"date":1,"hours":12,"minutes":43,"seconds":42},{"year":1900,"month":1,"date":1,"hours":12,"minutes":43,"seconds":52},
{"year":1900,"month":1,"date":1,"hours":12,"minutes":44,"seconds":2},{"year":1900,"month":1,"date":1,"hours":12,"minutes":44,"seconds":12},{"year":1900,"month":1,"date":1,"hours":12,"minutes":44,"seconds":22},{"year":1900,"month":1,"date":1,"hours":12,"minutes":44,"seconds":32},{"year":1900,"month":1,"date":1,"hours":12,"minutes":44,"seconds":42},{"year":1900,"month":1,"date":1,"hours":12,"minutes":44,"seconds":52},
{"year":1900,"month":1,"date":1,"hours":12,"minutes":45,"seconds":2},{"year":1900,"month":1,"date":1,"hours":12,"minutes":45,"seconds":12},{"year":1900,"month":1,"date":1,"hours":12,"minutes":45,"seconds":22},{"year":1900,"month":1,"date":1,"hours":12,"minutes":45,"seconds":32},{"year":1900,"month":1,"date":1,"hours":12,"minutes":45,"seconds":42},{"year":1900,"month":1,"date":1,"hours":12,"minutes":45,"seconds":52},
{"year":1900,"month":1,"date":1,"hours":12,"minutes":46,"seconds":2},{"year":1900,"month":1,"date":1,"hours":12,"minutes":46,"seconds":12},{"year":1900,"month":1,"date":1,"hours":12,"minutes":46,"seconds":22},{"year":1900,"month":1,"date":1,"hours":12,"minutes":46,"seconds":32},{"year":1900,"month":1,"date":1,"hours":12,"minutes":46,"seconds":42},{"year":1900,"month":1,"date":1,"hours":12,"minutes":46,"seconds":52},
{"year":1900,"month":1,"date":1,"hours":12,"minutes":47,"seconds":2},{"year":1900,"month":1,"date":1,"hours":12,"minutes":47,"seconds":12},{"year":1900,"month":1,"date":1,"hours":12,"minutes":47,"seconds":22},{"year":1900,"month":1,"date":1,"hours":12,"minutes":47,"seconds":32},{"year":1900,"month":1,"date":1,"hours":12,"minutes":47,"seconds":42},{"year":1900,"month":1,"date":1,"hours":12,"minutes":47,"seconds":52},
{"year":1900,"month":1,"date":1,"hours":12,"minutes":48,"seconds":2},{"year":1900,"month":1,"date":1,"hours":12,"minutes":48,"seconds":12},{"year":1900,"month":1,"date":1,"hours":12,"minutes":48,"seconds":22},{"year":1900,"month":1,"date":1,"hours":12,"minutes":48,"seconds":32},{"year":1900,"month":1,"date":1,"hours":12,"minutes":48,"seconds":42},{"year":1900,"month":1,"date":1,"hours":12,"minutes":48,"seconds":52},
{"year":1900,"month":1,"date":1,"hours":12,"minutes":49,"seconds":2},{"year":1900,"month":1,"date":1,"hours":12,"minutes":49,"seconds":12},{"year":1900,"month":1,"date":1,"hours":12,"minutes":49,"seconds":22},{"year":1900,"month":1,"date":1,"hours":12,"minutes":49,"seconds":32},{"year":1900,"month":1,"date":1,"hours":12,"minutes":49,"seconds":42},{"year":1900,"month":1,"date":1,"hours":12,"minutes":49,"seconds":52},
{"year":1900,"month":1,"date":1,"hours":12,"minutes":50,"seconds":2},{"year":1900,"month":1,"date":1,"hours":12,"minutes":50,"seconds":12},{"year":1900,"month":1,"date":1,"hours":12,"minutes":50,"seconds":22},{"year":1900,"month":1,"date":1,"hours":12,"minutes":50,"seconds":32},{"year":1900,"month":1,"date":1,"hours":12,"minutes":50,"seconds":42},{"year":1900,"month":1,"date":1,"hours":12,"minutes":50,"seconds":52},
{"year":1900,"month":1,"date":1,"hours":12,"minutes":51,"seconds":2},{"year":1900,"month":1,"date":1,"hours":12,"minutes":51,"seconds":12},{"year":1900,"month":1,"date":1,"hours":12,"minutes":51,"seconds":22},{"year":1900,"month":1,"date":1,"hours":12,"minutes":51,"seconds":32},{"year":1900,"month":1,"date":1,"hours":12,"minutes":51,"seconds":42},{"year":1900,"month":1,"date":1,"hours":12,"minutes":51,"seconds":52},
{"year":1900,"month":1,"date":1,"hours":12,"minutes":52,"seconds":2},{"year":1900,"month":1,"date":1,"hours":12,"minutes":52,"seconds":12},{"year":1900,"month":1,"date":1,"hours":12,"minutes":52,"seconds":22},{"year":1900,"month":1,"date":1,"hours":12,"minutes":52,"seconds":32},{"year":1900,"month":1,"date":1,"hours":12,"minutes":52,"seconds":42},{"year":1900,"month":1,"date":1,"hours":12,"minutes":52,"seconds":52},
{"year":1900,"month":1,"date":1,"hours":12,"minutes":53,"seconds":2},{"year":1900,"month":1,"date":1,"hours":12,"minutes":53,"seconds":12},{"year":1900,"month":1,"date":1,"hours":12,"minutes":53,"seconds":22},{"year":1900,"month":1,"date":1,"hours":12,"minutes":53,"seconds":32},{"year":1900,"month":1,"date":1,"hours":12,"minutes":53,"seconds":42},{"year":1900,"month":1,"date":1,"hours":12,"minutes":53,"seconds":52},
{"year":1900,"month":1,"date":1,"hours":12,"minutes":54,"seconds":2},{"year":1900,"month":1,"date":1,"hours":12,"minutes":54,"seconds":12},{"year":1900,"month":1,"date":1,"hours":12,"minutes":54,"seconds":22},{"year":1900,"month":1,"date":1,"hours":12,"minutes":54,"seconds":32},{"year":1900,"month":1,"date":1,"hours":12,"minutes":54,"seconds":42},{"year":1900,"month":1,"date":1,"hours":12,"minutes":54,"seconds":52},
{"year":1900,"month":1,"date":1,"hours":12,"minutes":55,"seconds":2},{"year":1900,"month":1,"date":1,"hours":12,"minutes":55,"seconds":12},{"year":1900,"month":1,"date":1,"hours":12,"minutes":55,"seconds":22},{"year":1900,"month":1,"date":1,"hours":12,"minutes":55,"seconds":32},{"year":1900,"month":1,"date":1,"hours":12,"minutes":55,"seconds":42},{"year":1900,"month":1,"date":1,"hours":12,"minutes":55,"seconds":52},
{"year":1900,"month":1,"date":1,"hours":12,"minutes":56,"seconds":2},{"year":1900,"month":1,"date":1,"hours":12,"minutes":56,"seconds":12},{"year":1900,"month":1,"date":1,"hours":12,"minutes":56,"seconds":22},{"year":1900,"month":1,"date":1,"hours":12,"minutes":56,"seconds":32},{"year":1900,"month":1,"date":1,"hours":12,"minutes":56,"seconds":42},{"year":1900,"month":1,"date":1,"hours":12,"minutes":56,"seconds":52},
{"year":1900,"month":1,"date":1,"hours":12,"minutes":57,"seconds":2},{"year":1900,"month":1,"date":1,"hours":12,"minutes":57,"seconds":12},{"year":1900,"month":1,"date":1,"hours":12,"minutes":57,"seconds":22},{"year":1900,"month":1,"date":1,"hours":12,"minutes":57,"seconds":32},{"year":1900,"month":1,"date":1,"hours":12,"minutes":57,"seconds":42},{"year":1900,"month":1,"date":1,"hours":12,"minutes":57,"seconds":52},
{"year":1900,"month":1,"date":1,"hours":12,"minutes":58,"seconds":2},{"year":1900,"month":1,"date":1,"hours":12,"minutes":58,"seconds":12},{"year":1900,"month":1,"date":1,"hours":12,"minutes":58,"seconds":22},{"year":1900,"month":1,"date":1,"hours":12,"minutes":58,"seconds":32}
            ]}}
      }
    },
    {
      "transform": [{"fold": ["LAS"], "as": ["series", "dBA"]}],
      "mark": {"type": "line", "strokeWidth": 2},
      "encoding": {
        "x": {"field": "t", "type": "temporal",
          "scale": {"domain": [{"year": 1900, "month": 1, "date": 1, "hours": 12, "minutes": 38, "seconds": 32}, {"year": 1900, "month": 1, "date": 1, "hours": 12, "minutes": 58, "seconds": 32}]},
          "axis": {"orient": "bottom", "title": null, "format": "%H.%M.%S",
            "values": [
              {"year": 1900, "month": 1, "date": 1, "hours": 12, "minutes": 38, "seconds": 32},
              {"year": 1900, "month": 1, "date": 1, "hours": 12, "minutes": 40, "seconds": 32},
              {"year": 1900, "month": 1, "date": 1, "hours": 12, "minutes": 42, "seconds": 32},
              {"year": 1900, "month": 1, "date": 1, "hours": 12, "minutes": 44, "seconds": 32},
              {"year": 1900, "month": 1, "date": 1, "hours": 12, "minutes": 46, "seconds": 32},
              {"year": 1900, "month": 1, "date": 1, "hours": 12, "minutes": 48, "seconds": 32},
              {"year": 1900, "month": 1, "date": 1, "hours": 12, "minutes": 50, "seconds": 32},
              {"year": 1900, "month": 1, "date": 1, "hours": 12, "minutes": 52, "seconds": 32},
              {"year": 1900, "month": 1, "date": 1, "hours": 12, "minutes": 54, "seconds": 32},
              {"year": 1900, "month": 1, "date": 1, "hours": 12, "minutes": 56, "seconds": 32},
              {"year": 1900, "month": 1, "date": 1, "hours": 12, "minutes": 58, "seconds": 32}
            ],
            "labelFont": "DejaVu Sans", "labelFontStyle": "italic", "labelFontSize": 14, "labelColor": "#333",
            "labelFlush": false, "labelOverlap": false, "labelPadding": 3,
            "tickSize": 12, "tickColor": "#555", "domainColor": "#4d4d4d",
            "grid": true, "gridColor": "#c8c8c8", "gridWidth": 1}
        },
        "y": {"field": "dBA", "type": "quantitative",
          "scale": {"domain": [30, 90], "nice": false, "zero": false},
          "axis": {
            "orient": "left",
            "values": [30, 40, 50, 60, 70, 80, 90],
            "labelFont": "DejaVu Sans", "labelFontStyle": "italic", "labelFontSize": 14, "labelColor": "#333", "labelPadding": 2,
            "tickSize": 8, "tickColor": "#555", "domainColor": "#4d4d4d",
            "grid": true, "gridColor": "#8f8f8f",
            "title": "dBA", "titleAngle": 0, "titleX": -20, "titleY": 35, "titleAlign": "center", "titleBaseline": "middle",
            "titleFont": "DejaVu Sans", "titleFontStyle": "italic", "titleFontWeight": "normal", "titleFontSize": 11, "titleColor": "#333"}
        },
        "color": {"field": "series", "type": "nominal",
          "scale": {"domain": ["LAS", "LAF", "LAI"], "range": ["#2f66b0", "#e3263a", "#1f3192"]},
          "legend": {
            "title": null, "orient": "none", "legendX": 0, "legendY": -89, "direction": "vertical",
            "symbolType": "M0,0H20", "symbolSize": 204.5, "symbolStrokeWidth": 2.5, "symbolOffset": 0,
            "labelOffset": 161, "labelFont": "Lato", "labelFontSize": 15.5, "labelLimit": 3000,
            "labelColor": {"expr": "datum.value === 'LAF' ? '#e0305c' : datum.value === 'LAI' ? '#14286e' : '#2f62c0'"},
            "labelExpr": "(datum.label === 'LAS' ? '1 - Esterne_002.s(11) - 1/3 Leq Spectrum + SLM - LAS' : datum.label === 'LAF' ? '2 - Esterne_002.s(11) - 1/3 Leq Spectrum + SLM - LAF' : '3 - Esterne_002.s(11) - 1/3 Leq Spectrum + SLM - LAI') + '\u00a0\u00a0\u00a0\u00a0\u00a0\u00a0\u00a0\u00a0\u00a0\u00a0\u00a0\u00a0\u00a0\u00a0\u00a0\u00a0\u00a0\u00a0\u00a0\u00a0\u00a0\u00a0\u00a0\u00a0\u00a0\u00a0\u00a0\u00a0\u00a0\u00a0\u00a0\u00a0\u00a0\u00a0\u00a0\u00a0\u00a0\u00a0\u00a0\u00a0\u00a0\u00a0\u00a0\u00a0\u00a0\u00a0\u00a0\u00a0\u00a0\u00a0\u00a0\u00a0\u00a0\u00a0\u00a0\u00a0\u00a0\u00a0\u00a0\u00a0\u00a0\u00a0\u00a0\u00a0\u00a0\u00a0\u00a0\u00a0\u00a0\u00a0\u00a0\u00a0\u00a0\u00a0\u00a0\u00a0\u00a0\u00a0\u00a0\u00a0\u00a0\u00a0\u00a0\u00a0\u00a0\u00a0\u00a0\u00a0\u00a0\u00a0\u00a0\u00a0\u00a0\u00a0\u00a0\u00a0\u00a0\u00a0\u00a0\u00a0\u00a0\u00a0\u00a0\u00a0\u00a0\u00a0\u00a0\u00a0\u00a0\u00a0\u00a0\u00a0\u00a0\u00a0\u00a0\u00a0\u00a0\u00a0\u00a0\u00a0\u00a0\u00a0\u00a0\u00a0\u00a0\u00a0\u00a0\u00a0\u00a0\u00a0\u00a0\u00a0\u00a0\u00a0\u00a0\u00a0\u00a0\u00a0\u00a0\u00a0\u00a0\u00a0\u00a0\u00a0\u00a0\u00a0\u00a0\u00a0\u00a0\u00a0\u00a0\u00a0\u00a0\u00a0\u00a0\u00a0\u00a0\u00a0\u00a0\u00a0\u00a0\u00a0\u00a0\u00a0\u00a0\u00a0\u00a0\u00a0\u00a0\u00a0\u00a0\u00a0\u00a0\u00a0\u00a0\u00a0\u00a0\u00a0\u00a0\u00a0\u00a0\u00a0\u00a0\u00a0\u00a0\u00a0\u00a0\u00a0\u00a0\u00a0\u00a0\u00a0\u00a0\u00a0\u00a0'",
            "rowPadding": 8, "padding": 5, "strokeColor": "#555", "fillColor": "white"
          }
        }
      }
    },
    {
      "transform": [{"fold": ["LAF"], "as": ["series", "dBA"]}],
      "mark": {"type": "line", "strokeWidth": 2},
      "encoding": {
        "x": {"field": "t", "type": "temporal", "axis": null},
        "y": {"field": "dBA", "type": "quantitative",
          "axis": {"orient": "left", "values": [30,32,34,36,38,40,42,44,46,48,50,52,54,56,58,60,62,64,66,68,70,72,74,76,78,80,82,84,86,88,90], "labels": false, "grid": false, "domain": false, "tickSize": 4, "tickColor": "#555", "title": null}},
        "color": {"field": "series", "type": "nominal"}
      }
    },
    {
      "transform": [{"fold": ["LAI"], "as": ["series", "dBA"]}],
      "mark": {"type": "line", "strokeWidth": 2.2},
      "encoding": {
        "x": {"field": "t", "type": "temporal", "axis": null},
        "y": {"field": "dBA", "type": "quantitative", "axis": null},
        "color": {"field": "series", "type": "nominal"}
      }
    },
    {
      "data": {
        "format": {"parse": {"tx": "date:'%H:%M:%S'", "x1": "date:'%H:%M:%S'", "x2": "date:'%H:%M:%S'", "ax": "date:'%H:%M:%S'", "hx": "date:'%H:%M:%S'"}},
        "values": [
          {"label": "Impulso", "tx": "12:40:03", "ty": 76.8, "x1": "12:39:29", "x2": "12:40:36", "y1": 78.7, "y2": 74.85, "ax": "12:39:29", "ay": 75.1, "hx": "12:39:02", "hy": 71.0},
          {"label": "Impulso", "tx": "12:42:48", "ty": 73.9, "x1": "12:42:15", "x2": "12:43:21", "y1": 75.8, "y2": 72.1, "ax": "12:42:15", "ay": 72.3, "hx": "12:41:48", "hy": 67.9},
          {"label": "Impulso", "tx": "12:58:14", "ty": 69.0, "x1": "12:57:39", "x2": "12:58:48", "y1": 70.87, "y2": 67.2, "ax": "12:57:41", "ay": 67.3, "hx": "12:57:13", "hy": 63.0}
        ]
      },
      "layer": [
        {
          "mark": {"type": "rule", "color": "#333", "strokeWidth": 1},
          "encoding": {
            "x": {"field": "ax", "type": "temporal", "axis": null},
            "y": {"field": "ay", "type": "quantitative", "axis": null},
            "x2": {"field": "hx"},
            "y2": {"field": "hy"}
          }
        },
        {
          "mark": {"type": "point", "shape": "M0,-1L0.45,1L-0.45,1Z", "size": 280, "filled": true, "color": "#111", "opacity": 1, "angle": 224},
          "encoding": {
            "x": {"field": "hx", "type": "temporal", "axis": null},
            "y": {"field": "hy", "type": "quantitative", "axis": null}
          }
        },
        {
          "mark": {"type": "rect", "fill": "white", "stroke": "#8a8a8a", "strokeWidth": 1},
          "encoding": {
            "x": {"field": "x1", "type": "temporal", "axis": null},
            "x2": {"field": "x2"},
            "y": {"field": "y1", "type": "quantitative", "axis": null},
            "y2": {"field": "y2"}
          }
        },
        {
          "mark": {"type": "text", "font": "Liberation Sans", "fontSize": 15, "color": "#111", "align": "center", "baseline": "middle"},
          "encoding": {
            "x": {"field": "tx", "type": "temporal", "axis": null},
            "y": {"field": "ty", "type": "quantitative", "axis": null},
            "text": {"field": "label"}
          }
        }
      ]
    },
    {
      "data": {
        "format": {"parse": {"x1": "date:'%H:%M:%S'", "x2": "date:'%H:%M:%S'", "hx": "date:'%H:%M:%S'"}},
        "values": [{"head": "12.44.52", "x1": "12:56:42", "x2": "12:58:32", "y1": 89.6, "y2": 78.4, "hx": "12:57:34", "hy": 87.8}]
      },
      "layer": [
        {
          "mark": {"type": "rect", "fill": "white", "stroke": "#333", "strokeWidth": 1},
          "encoding": {
            "x": {"field": "x1", "type": "temporal", "axis": null},
            "x2": {"field": "x2"},
            "y": {"field": "y1", "type": "quantitative", "axis": null},
            "y2": {"field": "y2"}
          }
        },
        {
          "mark": {"type": "text", "font": "DejaVu Sans", "fontSize": 10.5, "fontStyle": "italic", "fontWeight": "bold", "color": "#222", "align": "center", "baseline": "middle"},
          "encoding": {
            "x": {"field": "hx", "type": "temporal", "axis": null},
            "y": {"field": "hy", "type": "quantitative", "axis": null},
            "text": {"field": "head"}
          }
        }
      ]
    },
    {
      "data": {
        "format": {"parse": {"tl": "date:'%H:%M:%S'", "tr": "date:'%H:%M:%S'"}},
        "values": [
          {"series": "LAI", "tag": "3=", "reading": "49.0 dBA", "tl": "12:56:53", "tr": "12:58:22", "v": 85.2},
          {"series": "LAS", "tag": "1=", "reading": "44.5 dBA", "tl": "12:56:53", "tr": "12:58:22", "v": 83.0},
          {"series": "LAF", "tag": "2=", "reading": "43.2 dBA", "tl": "12:56:53", "tr": "12:58:22", "v": 80.4}
        ]
      },
      "layer": [
        {
          "mark": {"type": "text", "font": "DejaVu Sans", "fontSize": 10, "fontStyle": "italic", "fontWeight": "bold", "align": "left", "baseline": "middle"},
          "encoding": {
            "x": {"field": "tl", "type": "temporal", "axis": null},
            "y": {"field": "v", "type": "quantitative", "axis": null},
            "text": {"field": "tag"},
            "color": {"field": "series", "type": "nominal", "legend": null}
          }
        },
        {
          "mark": {"type": "text", "font": "DejaVu Sans", "fontSize": 10, "fontStyle": "italic", "fontWeight": "bold", "align": "right", "baseline": "middle"},
          "encoding": {
            "x": {"field": "tr", "type": "temporal", "axis": null},
            "y": {"field": "v", "type": "quantitative", "axis": null},
            "text": {"field": "reading"},
            "color": {"field": "series", "type": "nominal", "legend": null}
          }
        }
      ]
    }
  ]
}
